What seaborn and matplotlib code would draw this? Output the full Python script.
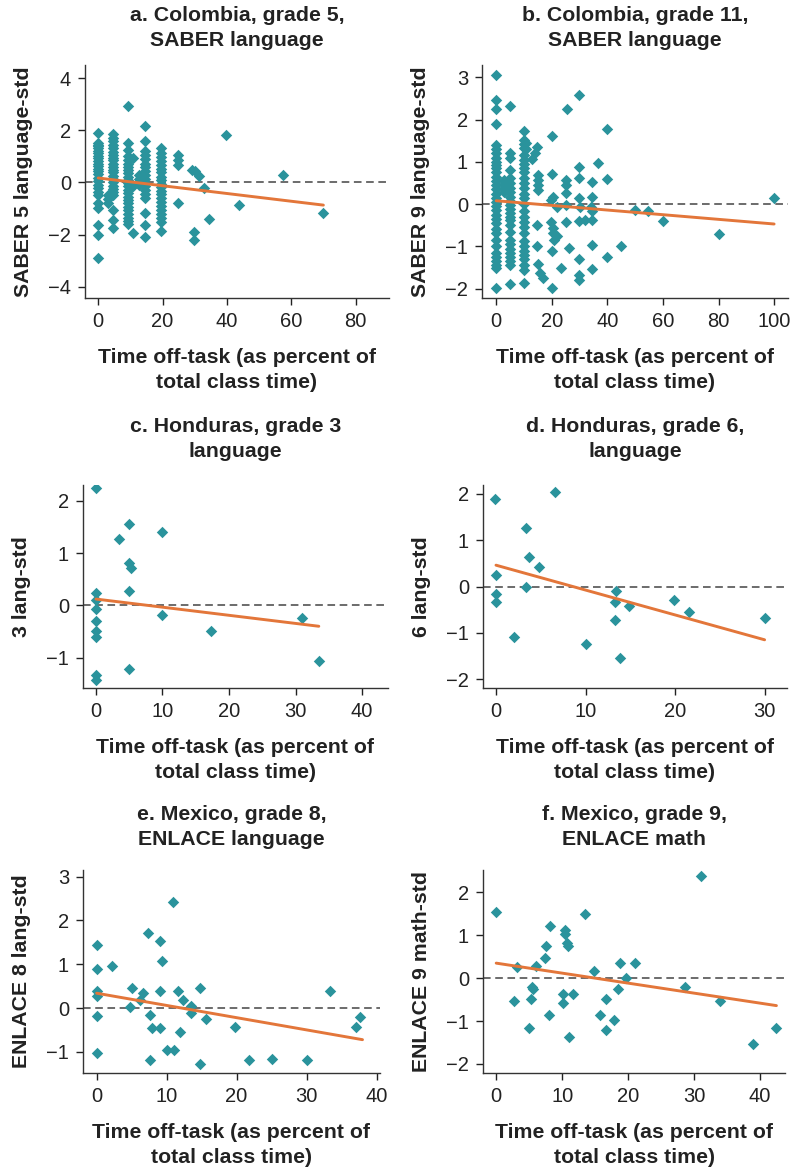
import pandas as pd
import seaborn as sns
import matplotlib.pyplot as plt

### cores
teal = "#2a939c"
orange = "#e3763a"

### a. Colombia grade 5 - colunas de pontos empilhados + pontos soltos
a_cols = [0, 3.2, 4.7, 9.3, 10.8, 12.6, 14.5, 19.5, 24.7]
a_col_vals = [
    [1.9, 1.52, 1.45, 1.38, 1.3, 1.22, 1.12, 1.02, 0.92, 0.82, 0.72, 0.62, 0.52, 0.42,
     0.32, 0.18, 0.05, -0.1, -0.22, -0.35, -0.47, -0.78, -0.97, -1.62, -2.0, -2.9],
    [-0.5, -0.62, -0.78],
    [1.85, 1.72, 1.6, 1.45, 1.3, 1.18, 1.05, 0.95, 0.85, 0.72, 0.6, 0.48, 0.38, 0.25,
     0.12, 0.0, -0.12, -0.25, -0.38, -0.47, -1.05, -1.43, -1.74],
    [2.93, 1.5, 1.25, 1.0, 0.85, 0.72, 0.6, 0.48, 0.36, 0.22, 0.1, -0.02, -0.15, -0.28,
     -0.4, -0.55, -0.68, -0.8, -0.93, -1.05, -1.2, -1.35, -1.47, -1.6],
    [0.93, -0.15, -1.95],
    [0.3, 0.12, -0.08],
    [2.15, 1.57, 1.2, 1.05, 0.9, 0.72, 0.58, 0.42, 0.28, 0.12, -0.02, -0.15, -0.3, -0.45,
     -0.6, -1.17, -1.62, -2.1],
    [1.32, 1.13, 0.98, 0.82, 0.68, 0.52, 0.38, 0.22, 0.08, -0.05, -0.18, -0.32, -0.45,
     -0.6, -0.75, -0.9, -1.05, -1.2, -1.35, -1.5, -1.88],
    [1.06, 0.87, 0.68, -0.78],
]
a_x = [29.2, 30.2, 31.3, 29.8, 29.7, 32.8, 34.6, 39.8, 43.9, 57.4, 69.8]
a_y = [0.48, 0.42, 0.26, -1.9, -2.2, -0.22, -1.4, 1.83, -0.88, 0.27, -1.17]

### b. Colombia grade 11
b_cols = [0, 2.8, 5.0, 10.0, 10.7]
b_col_vals = [
    [3.05, 2.46, 2.24, 1.9, 1.4, 1.3, 1.2, 1.1, 1.0, 0.92, 0.85, 0.75, 0.65, 0.55, 0.45,
     0.35, 0.25, 0.15, 0.05, -0.05, -0.15, -0.25, -0.35, -0.45, -0.58, -0.68, -0.85,
     -1.0, -1.15, -1.25, -1.35, -1.45, -1.52, -1.98],
    [0.57, 0.48, 0.38, 0.29],
    [2.31, 1.2, 1.1, 0.8, 0.62, 0.5, 0.38, 0.29, 0.18, 0.08, -0.02, -0.12, -0.22, -0.3,
     -0.37, -0.5, -0.65, -0.84, -0.95, -1.05, -1.15, -1.25, -1.35, -1.43, -1.9],
    [1.72, 1.52, 1.42, 1.33, 1.17, 1.05, 0.95, 0.85, 0.75, 0.62, 0.5, 0.38, 0.25, 0.14,
     0.0, -0.17, -0.3, -0.42, -0.55, -0.68, -0.88, -0.98, -1.1, -1.2, -1.3, -1.43,
     -1.55, -1.86],
    [1.45, 1.3],
]
b_x = [12.8, 14, 14.6, 15, 15, 15, 15, 14.8, 14.8, 15, 15.8, 16.8,
       20, 20, 20.3, 19.8, 19.8, 20.3, 20.5, 20.8, 21.8, 20, 20.1, 22, 23.2,
       25.4, 25, 25, 25, 25, 25, 26.3,
       29.8, 29.8, 29.8, 29.8, 30.2, 29.8, 29.8, 29.8, 29.8, 32,
       34.6, 34.6, 34, 34.6, 34.6, 34.6, 34.6,
       36.8, 39.8, 40, 39.8, 44.8, 49.9, 54.7, 60.1, 80.2, 100]
b_y = [1.07, 1.2, 1.35, 0.69, 0.57, 0.45, 0.34, -0.49, -1.0, -1.41, -1.63, -1.75,
       1.6, 0.72, 0.18, 0.1, -0.43, -0.57, -0.69, -0.84, -0.76, -1.12, -1.98, -0.06, -1.51,
       2.24, 0.57, 0.46, 0.26, -0.02, -0.43, -1.04,
       2.57, 0.87, 0.61, 0.14, -0.06, -0.39, -1.3, -1.67, -1.79, -0.37,
       0.53, 0.17, -0.06, -0.17, -0.37, -0.96, -1.53,
       0.98, 1.77, 0.59, -1.26, -0.98, -0.13, -0.17, -0.39, -0.7, 0.15]

### c. Honduras grade 3
c_x = [0, 0, 0, 0, 0, 0, 0, 0, 0, 3.4, 4.9, 4.9, 5.3, 4.9, 4.9, 10, 10, 17.3, 31, 33.5]
c_y = [2.24, 0.24, 0.1, -0.07, -0.29, -0.5, -0.61, -1.33, -1.42, 1.27, 1.55, 0.81,
       0.71, 0.27, -1.22, 1.4, -0.18, -0.5, -0.25, -1.07]

### d. Honduras grade 6
d_x = [-0.15, 0, 0, 0, 2.05, 3.3, 3.4, 3.7, 4.8, 6.6, 10, 13.4, 13.3, 13.3, 13.9,
       14.9, 19.9, 21.5, 30]
d_y = [1.88, 0.24, -0.16, -0.34, -1.1, 1.26, -0.01, 0.63, 0.42, 2.04, -1.24, -0.09,
       -0.34, -0.73, -1.55, -0.42, -0.3, -0.54, -0.68]

### e. Mexico grade 8
e_x = [0, 0, 0, 0, 0, 0, 2.2, 4.8, 5.0, 6.2, 6.6, 7.4, 7.6, 7.9, 7.6, 9.1, 9.1, 9.1,
       9.4, 10.1, 10.9, 11, 11.6, 11.9, 12.4, 13.5, 13.5, 14.8, 14.8, 15.7, 19.8,
       21.8, 25.1, 30.1, 33.4, 37.1, 37.7]
e_y = [1.43, 0.89, 0.4, 0.28, -0.19, -1.03, 0.96, 0.02, 0.47, 0.19, 0.34, 1.72, -0.15,
       -0.46, -1.18, 1.52, 0.4, -0.46, 1.08, -0.96, 2.41, -0.96, 0.4, -0.54, 0.19,
       0.04, -0.11, 0.47, -1.27, -0.25, -0.42, -1.18, -1.15, -1.18, 0.4, -0.44, -0.21]

### f. Mexico grade 9 math
f_x = [0, 2.7, 3.1, 5.0, 5.3, 5.5, 5.6, 6.1, 7.4, 7.6, 8.1, 8.0, 10.1, 10.1, 10.5,
       10.5, 10.7, 10.9, 11.1, 11.6, 13.5, 14.8, 15.7, 16.7, 16.7, 17.9, 18.4, 18.8,
       19.7, 21.1, 28.7, 31.1, 33.9, 39, 42.5]
f_y = [1.53, -0.54, 0.26, -1.16, -0.49, -0.21, -0.26, 0.29, 0.47, 0.74, 1.22, -0.85,
       -0.36, -0.58, 1.13, 1.03, 0.83, 0.74, -1.36, -0.36, 1.49, 0.16, -0.85, -0.49,
       -1.2, -0.97, -0.26, 0.36, 0.0, 0.36, -0.21, 2.38, -0.54, -1.53, -1.16]

### linhas de regressao (extremos)
fit_x = {"a": [0, 70], "b": [0, 100], "c": [0, 33.5], "d": [0, 30], "e": [0, 38], "f": [0, 42.5]}
fit_y = {"a": [0.17, -0.87], "b": [0.08, -0.47], "c": [0.12, -0.4], "d": [0.46, -1.15],
         "e": [0.34, -0.72], "f": [0.35, -0.64]}

titles = ["a. Colombia, grade 5,\nSABER language", "b. Colombia, grade 11,\nSABER language",
          "c. Honduras, grade 3\nlanguage", "d. Honduras, grade 6,\nlanguage",
          "e. Mexico, grade 8,\nENLACE language", "f. Mexico, grade 9,\nENLACE math"]
ylabels = ["SABER 5 language-std", "SABER 9 language-std", "3 lang-std", "6 lang-std",
           "ENLACE 8 lang-std", "ENLACE 9 math-std"]
xlabel = "Time off-task (as percent of\ntotal class time)"


def stack_cols(cols, col_vals, xs, ys):
    rows = []
    for cx, vals in zip(cols, col_vals):
        rows += [(cx, v) for v in vals]
    rows += list(zip(xs, ys))
    return pd.DataFrame(rows, columns=["x", "y"])


data = {
    "a": stack_cols(a_cols, a_col_vals, a_x, a_y),
    "b": stack_cols(b_cols, b_col_vals, b_x, b_y),
    "c": pd.DataFrame({"x": c_x, "y": c_y}),
    "d": pd.DataFrame({"x": d_x, "y": d_y}),
    "e": pd.DataFrame({"x": e_x, "y": e_y}),
    "f": pd.DataFrame({"x": f_x, "y": f_y}),
}

sns.set_theme(style="ticks")
plt.rcParams["font.family"] = ["Liberation Sans", "DejaVu Sans"]

W, H = 795, 1175
fig = plt.figure(figsize=(W / 100, H / 100), dpi=100)

### posicao dos eixos em pixels (esq, topo, dir, baixo)
boxes = {"a": (85, 65, 389, 298), "b": (482, 65, 788, 298),
         "c": (83, 485, 388, 688), "d": (483, 485, 787, 688),
         "e": (83, 870, 380, 1073), "f": (483, 870, 785, 1073)}
xlims = {"a": (-4.1, 90.4), "b": (-5.1, 105), "c": (-1.95, 43.9), "d": (-1.45, 32.5),
         "e": (-1.95, 40.5), "f": (-2.0, 43.8)}
ylims = {"a": (-4.43, 4.5), "b": (-2.22, 3.29), "c": (-1.58, 2.3), "d": (-2.19, 2.19),
         "e": (-1.48, 3.15), "f": (-2.21, 2.52)}
xticks = {"a": range(0, 81, 20), "b": range(0, 101, 20), "c": range(0, 41, 10),
          "d": range(0, 31, 10), "e": range(0, 41, 10), "f": range(0, 41, 10)}
yticks = {"a": range(-4, 5, 2), "b": range(-2, 4), "c": range(-1, 3), "d": range(-2, 3),
          "e": range(-1, 4), "f": range(-2, 3)}
title_pad = {"a": 14, "b": 14, "c": 20, "d": 20, "e": 18, "f": 18}

for i, k in enumerate("abcdef"):
    l, t, r, b = boxes[k]
    ax = fig.add_axes([l / W, 1 - b / H, (r - l) / W, (b - t) / H])
    ax.axhline(0, color="#444444", ls=(0, (5, 3)), lw=1.1, zorder=1)
    sns.scatterplot(data=data[k], x="x", y="y", marker="D", s=34, color=teal,
                    linewidth=0, ax=ax, zorder=2)
    sns.lineplot(x=fit_x[k], y=fit_y[k], color=orange, lw=2.1, ax=ax, zorder=3)
    ax.set_xlim(*xlims[k])
    ax.set_ylim(*ylims[k])
    ax.set_xticks(list(xticks[k]))
    ax.set_yticks(list(yticks[k]))
    ax.set_yticklabels([str(v).replace("-", "\u2212") for v in yticks[k]])
    ax.tick_params(labelsize=14.5, colors="#222222", length=5, width=1, pad=5)
    ax.set_xlabel(xlabel, fontsize=15.3, fontweight="bold", color="#222222",
                  labelpad=12, linespacing=1.45)
    ax.set_ylabel(ylabels[i], fontsize=15.3, fontweight="bold", color="#222222", labelpad=11)
    ax.set_title(titles[i], fontsize=15.3, fontweight="bold", color="#222222",
                 pad=title_pad[k], linespacing=1.4)
    for s in ["left", "bottom"]:
        ax.spines[s].set_color("#333333")
        ax.spines[s].set_linewidth(1)
    sns.despine(ax=ax)

plt.savefig("out.png", dpi=100)
